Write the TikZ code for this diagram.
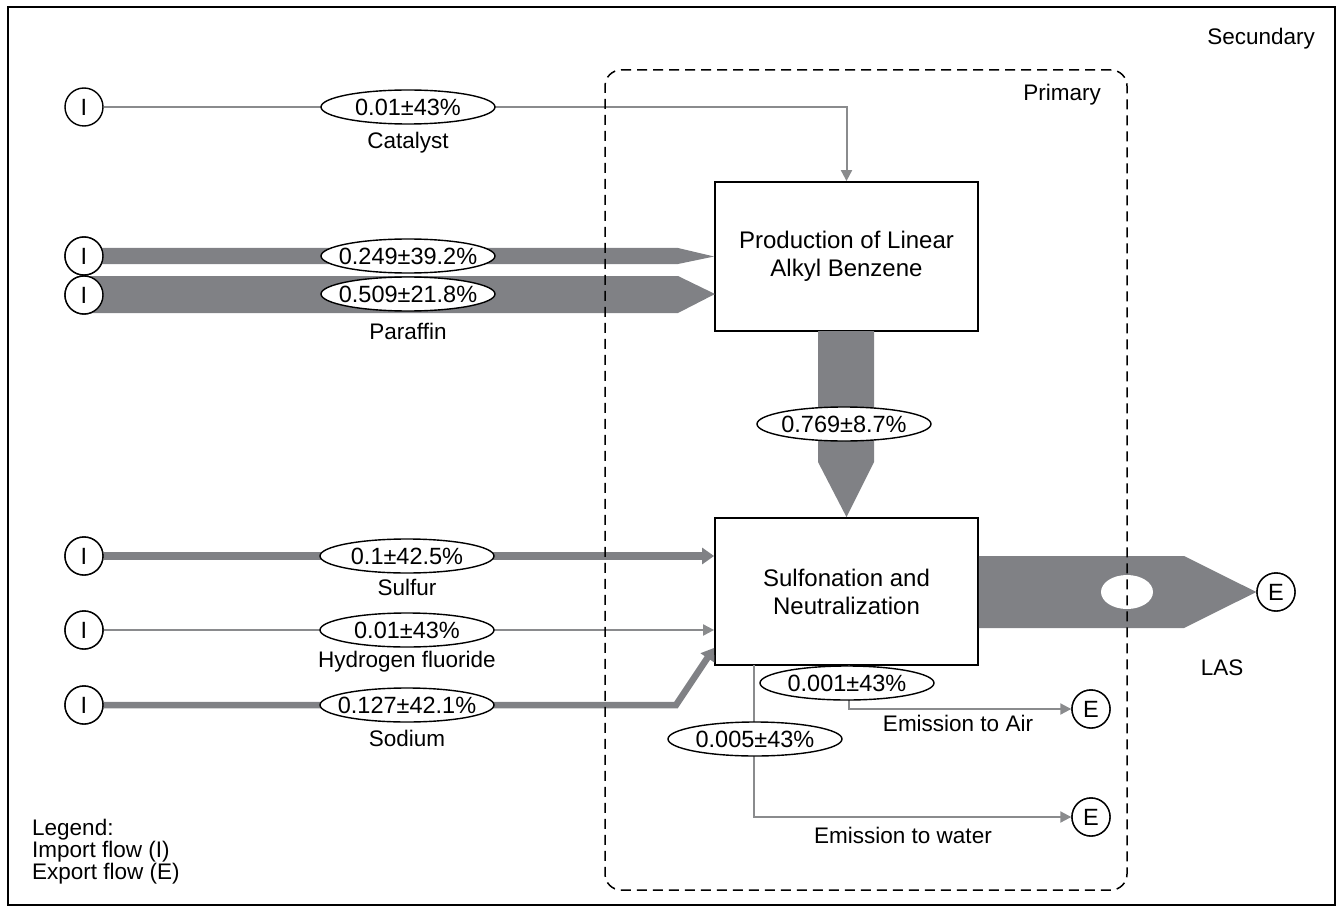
\documentclass[tikz,border=0pt]{standalone}
\usepackage{fontspec}
\setmainfont{Liberation Sans}
\usetikzlibrary{arrows.meta,shapes.geometric,calc}
\definecolor{flowgray}{RGB}{128,129,133}
\definecolor{linegray}{RGB}{138,139,141}
\begin{document}
\begin{tikzpicture}[x=1pt,y=-1pt,
  every node/.style={font=\fontsize{22.5}{28}\selectfont},
  port/.style={circle, draw, line width=1.4pt, fill=white, minimum size=38pt, inner sep=0pt, font=\fontsize{23.5}{28}\selectfont},
  proc/.style={rectangle, draw, line width=1.8pt, fill=white, minimum width=263pt, align=center, inner sep=0pt, font=\fontsize{24}{28}\selectfont},
  val/.style={ellipse, draw, line width=1.4pt, fill=white, minimum width=174pt, minimum height=34pt, inner xsep=-12pt, inner ysep=-3pt, font=\fontsize{23.5}{28}\selectfont},
  lbl/.style={inner sep=0pt},
  band/.style={fill=flowgray},
  thinflow/.style={draw=linegray, line width=2pt, -{Triangle[length=11pt,width=11pt]}},
  thickflow/.style={draw=flowgray, line width=#1, -{Triangle[length=12pt,width=16pt]}},
  zone/.style={rectangle, draw, line width=1.5pt, inner sep=0pt}
]
\useasboundingbox (0,0) rectangle (1340,909);

% system boundary (secondary)
\node[zone, minimum width=1327pt, minimum height=898pt] (secondary) at (671.5,456) {};
\node[lbl, anchor=east] (secLabel) at (1315,39) {Secundary};

% process boxes
\node[proc, minimum height=149pt] (lab) at (846.5,256.5) {Production of Linear\\Alkyl Benzene};
\node[proc, minimum height=147pt] (sn) at (846.5,591.5) {Sulfonation and\\Neutralization};

% import and export ports
\node[port] (iCat) at (84,107) {I};
\node[port] (iPar1) at (84,256) {};
\node[port] (iPar2) at (84,295) {};
\node[port] (iSul) at (84,556) {};
\node[port] (iHF) at (84,630) {};
\node[port] (iSod) at (84,705) {};
\node[port] (eLAS) at (1276,592) {};
\node[port] (eAir) at (1091,709) {};
\node[port] (eWat) at (1091,817) {};

% broad flows
\fill[band] (iPar1.center) ++(0,-8) -- (678,248) -- (lab.west) -- (678,264) -- (iPar1.center |- 0,264) -- cycle;
\fill[band] (iPar2.center) ++(0,-19) -- (678,276) -- (715,294) -- (678,313) -- (iPar2.center |- 0,313) -- cycle;
\fill[band] (818,331) -- (818,462) -- (sn.north) -- (874,462) -- (874,331) -- cycle;
\fill[band] (sn.east |- 0,556) -- (1184,556) -- (eLAS.west) -- (1184,628) -- (sn.east |- 0,628) -- cycle;

% narrow flows
\draw[thinflow] (iCat.east) -- (lab.north |- iCat) -- (lab.north);
\draw[thickflow=7.5pt] (iSul.east) -- (sn.west |- iSul);
\draw[thinflow] (iHF.east) -- (sn.west |- iHF);
\draw[thickflow=6.5pt] (iSod.east) -- (676,705) -- ($(sn.south west)+(0,-18)$);
\coordinate (wOut) at (754,665);
\coordinate (aOut) at (849,665);
\draw[thinflow] (wOut) -- (wOut |- eWat) -- (eWat.west);
\draw[thinflow] (aOut) -- (aOut |- eAir) -- (eAir.west);

% redraw ports on top of the flows
\node[port] at (iPar1) {I};
\node[port] at (iPar2) {I};
\node[port] at (iSul) {I};
\node[port] at (iHF) {I};
\node[port] at (iSod) {I};
\node[port] at (eLAS) {E};
\node[port] at (eAir) {E};
\node[port] at (eWat) {E};

% flow values
\node[val] (vCat) at (408,107) {0.01±43\%};
\node[val] (vPar1) at (408,256) {0.249±39.2\%};
\node[val] (vPar2) at (408,294) {0.509±21.8\%};
\node[val] (vLab) at (844,424) {0.769±8.7\%};
\node[val] (vSul) at (407,556) {0.1±42.5\%};
\node[val] (vHF) at (407,630) {0.01±43\%};
\node[val] (vSod) at (407,705) {0.127±42.1\%};
\node[val] (vAir) at (847,683) {0.001±43\%};
\node[val] (vWat) at (755,739) {0.005±43\%};
\node[ellipse, fill=white, minimum width=52pt, minimum height=34pt, inner sep=0pt] (vLAS) at (1127,592) {};

% flow names
\node[lbl] (nCat) at (408,143) {Catalyst};
\node[lbl] (nPar) at (408,331) {Paraffin};
\node[lbl] (nSul) at (407,587) {Sulfur};
\node[lbl] (nHF) at (407,662) {Hydrogen fluoride};
\node[lbl] (nSod) at (407,738) {Sodium};
\node[lbl] (nAir) at (958,723) {Emission to Air};
\node[lbl] (nWat) at (903,835) {Emission to water};
\node[lbl] (nLAS) at (1222,668) {LAS};

% primary boundary
\node[zone, dash pattern=on 10pt off 6pt, rounded corners=16pt, minimum width=522pt, minimum height=820pt] (primary) at (866,480) {};
\node[lbl] (priLabel) at (1062,95) {Primary};

% legend
\node[lbl, anchor=west, align=left, font=\fontsize{22.5}{22}\selectfont] (legend) at (32,852) {Legend:\\Import flow (I)\\Export flow (E)};
\end{tikzpicture}
\end{document}
